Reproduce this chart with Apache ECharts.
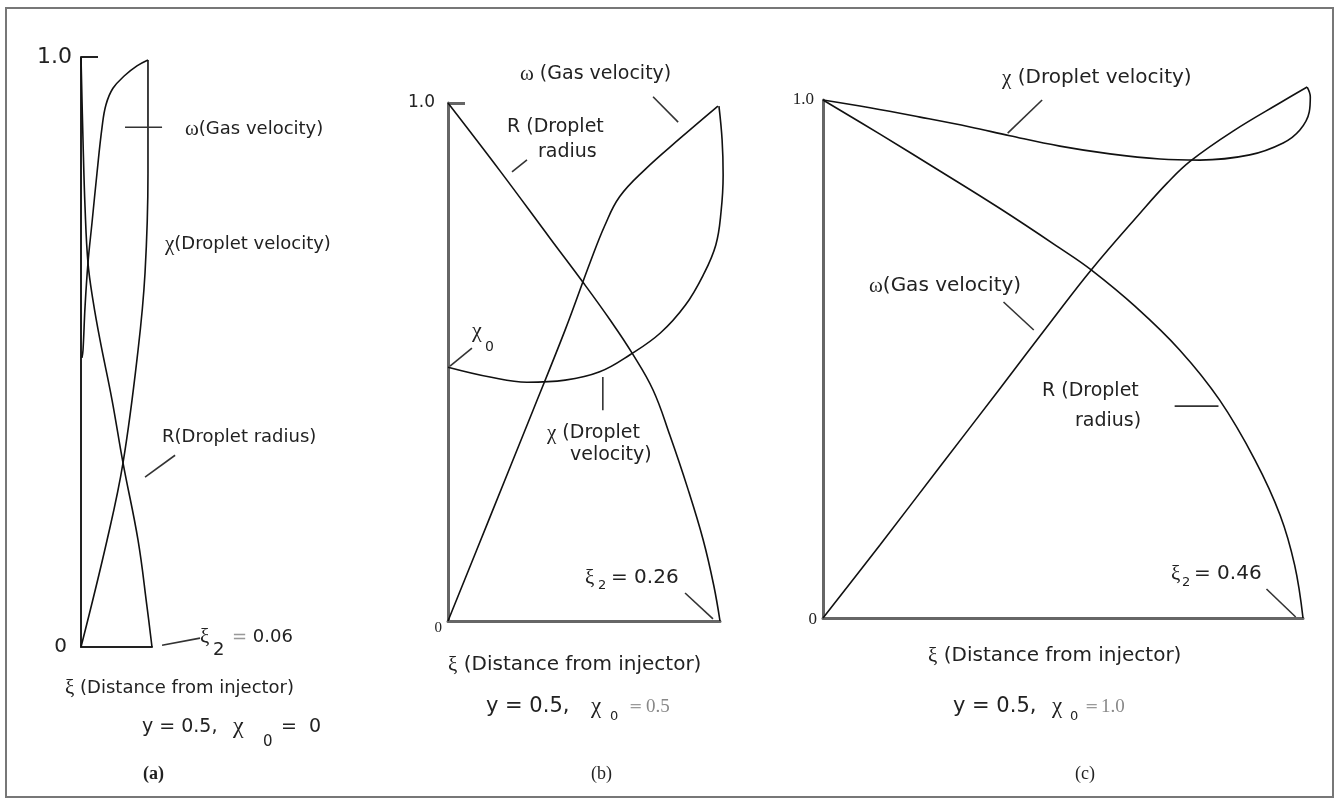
<!DOCTYPE html>
<html><head><meta charset="utf-8">
<script src="https://cdn.jsdelivr.net/npm/echarts@6/dist/echarts.min.js"></script>
<style>html,body{margin:0;padding:0;background:#fff}#c{width:1338px;height:803px}</style>
</head><body><div id="c"></div>
<script>
// ---------- data: [xi, value] ----------
// Panel (a): y = 0.5, chi0 = 0, xi2 = 0.06
const a_xiMax = 0.06;
const a_R = [[0,1.0],[0.0017,0.859],[0.0034,0.746],[0.0059,0.651],[0.0101,0.588],[0.0161,0.520],[0.0262,0.419],[0.0355,0.312],[0.0482,0.181],[0.0558,0.068],[0.060,0]];
const a_omega = [[0,0],[0.022,0.181],[0.0355,0.312],[0.0482,0.503],[0.0541,0.634],[0.0566,0.803],[0.0566,0.910],[0.0566,0.995]];
const a_chi = [[0.0008,0.49],[0.0017,0.503],[0.0034,0.576],[0.0059,0.651],[0.0093,0.719],[0.0135,0.803],[0.0178,0.881],[0.0211,0.919],[0.027,0.947],[0.0372,0.969],[0.0473,0.985],[0.0566,0.995]];
// Panel (b): y = 0.5, chi0 = 0.5, xi2 = 0.26
const b_xiMax = 0.26;
const b_R = [[0,1.0],[0.0497,0.869],[0.0975,0.739],[0.129,0.654],[0.155,0.581],[0.176,0.517],[0.196,0.446],[0.212,0.359],[0.229,0.257],[0.244,0.156],[0.254,0.069],[0.26,0]];
const b_omega = [[0,0],[0.0402,0.201],[0.0813,0.407],[0.112,0.562],[0.136,0.693],[0.150,0.764],[0.164,0.819],[0.188,0.871],[0.222,0.932],[0.258,0.994]];
const b_chi = [[0,0.49],[0.0402,0.471],[0.0755,0.461],[0.112,0.465],[0.145,0.481],[0.174,0.514],[0.203,0.556],[0.227,0.610],[0.244,0.668],[0.256,0.726],[0.261,0.790],[0.263,0.861],[0.262,0.929],[0.259,0.994]];
// Panel (c): y = 0.5, chi0 = 1.0, xi2 = 0.46
const c_xiMax = 0.46;
const c_R = [[0,1.0],[0.0546,0.934],[0.112,0.863],[0.170,0.790],[0.227,0.714],[0.257,0.672],[0.300,0.600],[0.342,0.517],[0.380,0.421],[0.414,0.305],[0.438,0.199],[0.452,0.102],[0.46,0]];
const c_omega = [[0,0],[0.0546,0.141],[0.112,0.292],[0.170,0.444],[0.218,0.571],[0.257,0.672],[0.304,0.782],[0.330,0.840],[0.352,0.882],[0.393,0.940],[0.441,0.998],[0.464,1.025]];
const c_chi = [[0,1.0],[0.045,0.985],[0.093,0.967],[0.141,0.948],[0.179,0.931],[0.227,0.911],[0.275,0.896],[0.323,0.886],[0.361,0.884],[0.409,0.894],[0.441,0.917],[0.457,0.942],[0.466,0.977],[0.467,1.006],[0.464,1.025]];
// leader lines (data units)
const a_leaders = [[[0.0372,0.881],[0.0685,0.881]],[[0.0541,0.288],[0.0795,0.325]],[[0.0685,0.003],[0.1006,0.015]]];
const b_leaders = [[[0.196,1.012],[0.220,0.963]],[[0.0612,0.867],[0.0755,0.890]],[[0.0019,0.492],[0.0229,0.527]],[[0.148,0.471],[0.148,0.407]],[[0.2266,0.054],[0.2533,0.004]]];
const c_leaders = [[[0.177,0.936],[0.210,1.0]],[[0.173,0.610],[0.202,0.556]],[[0.337,0.409],[0.379,0.409]],[[0.425,0.056],[0.453,0.002]]];
const yTickLabels = ['0','1.0'];

// ---------- chart ----------
const SANS = 'DejaVu Sans', SERIF = 'Liberation Serif', INK = '#222';
const chart = echarts.init(document.getElementById('c'), null, {renderer:'canvas'});

// panel frames (pixel layout) and wider overlay extents with identical scale
const panels = [
  {left:81,  top:57,  width:71,  height:590, xmax:a_xiMax, over:0.12},
  {left:448, top:103, width:272, height:518, xmax:b_xiMax, over:0.32},
  {left:823, top:100, width:480, height:518, xmax:c_xiMax, over:0.49}
];
const grids = panels.map(p => ({left:p.left, top:p.top, width:p.width, height:p.height}))
  .concat(panels.map(p => ({left:p.left, top:p.top, width:p.width * p.over / p.xmax, height:p.height})));

function xAx(gi, max, color, width, show){
  return {type:'value', gridIndex:gi, min:0, max:max, show:show,
    axisLine:{show:true, onZero:false, lineStyle:{color:color, width:width}},
    axisTick:{show:false}, axisLabel:{show:false}, splitLine:{show:false}};
}
function yAx(gi, color, width, tick, rich, margin){
  return {type:'value', gridIndex:gi, min:0, max:1,
    axisLine:{show:true, onZero:false, lineStyle:{color:color, width:width}},
    axisTick:{show:tick, inside:true, length:17, customValues:[1], lineStyle:{color:color, width:width}},
    axisLabel:{show:true, customValues:[0,1], margin:margin,
      formatter: v => v === 1 ? '{t|' + yTickLabels[1] + '}' : '{z|' + yTickLabels[0] + '}',
      rich: rich},
    splitLine:{show:false}};
}
function yHidden(gi){ return {type:'value', gridIndex:gi, min:0, max:1, show:false, splitLine:{show:false}}; }
function curve(ai, data){
  return {type:'line', xAxisIndex:ai, yAxisIndex:ai, data:data, smooth:0.4, symbol:'none',
    clip:false, silent:true, lineStyle:{color:'#111', width:1.6}};
}
function leaders(ai, list){
  return list.map(seg => ({type:'line', xAxisIndex:ai, yAxisIndex:ai, data:seg, symbol:'none',
    clip:false, silent:true, lineStyle:{color:'#333', width:1.6}}));
}
function T(x, y, text, size, family, extra){
  return Object.assign({type:'text', x:x, y:y, silent:true, style:Object.assign({text:text, fill:INK,
    fontSize:size, fontFamily:family, align:'left', verticalAlign:'middle',
    textAlign:'left', textVerticalAlign:'middle'}, extra && extra.style || {})}, extra && extra.el || {});
}
const gr = {g:{fontFamily:SERIF, fontSize:21, fill:INK}};
const grEq = {e:{fontFamily:SANS, fontSize:18, fill:'#999'}};
const GRAY = {style:{fill:'#999'}};
const GRAYV = {style:{fill:'#888'}};

const graphic = [
  {type:'rect', shape:{x:6, y:8, width:1327, height:789}, style:{fill:'none', stroke:'#777', lineWidth:2}, silent:true},
  // panel (a)
  T(185,129,'{g|ω}(Gas velocity)',18,SANS,{style:{rich:gr}}),
  T(165,244,'{g|χ}(Droplet velocity)',18,SANS,{style:{rich:gr}}),
  T(162,437,'R(Droplet radius)',18,SANS),
  T(200,637,'ξ',21,SERIF),
  T(213,650,'2',18,SANS),
  T(232,637,'{e|=} 0.06',18,SANS,{style:{rich:grEq}}),
  T(65,688,'{g|ξ} (Distance from injector)',18,SANS,{style:{rich:gr}}),
  T(142,727,'y = 0.5, ',19,SANS),
  T(233,727,'χ',24,SERIF),
  T(263,742,'0',15,SANS),
  T(281,727,'=  0',19,SANS),
  T(143,774,'(a)',18,SERIF,{style:{fontWeight:'bold'}}),
  // panel (b)
  T(520,74,'{g|ω} (Gas velocity)',19,SANS,{style:{rich:gr}}),
  T(507,127,'R (Droplet',19,SANS),
  T(538,152,'radius',19,SANS),
  T(472,331,'χ',22,SERIF),
  T(485,347,'0',14,SANS),
  T(547,433,'{g|χ} (Droplet',19,SANS,{style:{rich:gr}}),
  T(570,455,'velocity)',19,SANS),
  T(585,578,'ξ',21,SERIF),
  T(598,586,'2',13,SANS),
  T(611,578,'= 0.26',20,SANS),
  T(448,665,'{g|ξ} (Distance from injector)',20,SANS,{style:{rich:gr}}),
  T(486,707,'y = 0.5,',21,SANS),
  T(591,707,'χ',23,SERIF),
  T(610,717,'0',13,SANS),
  T(629,707,'=',16,SANS,GRAY),
  T(646,707,'0.5',19,SERIF,GRAYV),
  T(591,774,'(b)',18,SERIF),
  // panel (c)
  T(1002,78,'{g|χ} (Droplet velocity)',20,SANS,{style:{rich:gr}}),
  T(869,286,'{g|ω}(Gas velocity)',20,SANS,{style:{rich:gr}}),
  T(1042,391,'R (Droplet',19,SANS),
  T(1075,421,'radius)',19,SANS),
  T(1171,574,'ξ',21,SERIF),
  T(1182,583,'2',13,SANS),
  T(1194,574,'= 0.46',20,SANS),
  T(928,656,'{g|ξ} (Distance from injector)',20,SANS,{style:{rich:gr}}),
  T(953,707,'y = 0.5,',21,SANS),
  T(1052,707,'χ',23,SERIF),
  T(1070,717,'0',13,SANS),
  T(1085,707,'=',16,SANS,GRAY),
  T(1101,707,'1.0',19,SERIF,GRAYV),
  T(1075,774,'(c)',18,SERIF)
];

const option = {
  backgroundColor:'#fff',
  animation:false,
  grid: grids,
  xAxis:[ xAx(0,a_xiMax,'#222',2,true), xAx(1,b_xiMax,'#666',3,true), xAx(2,c_xiMax,'#666',3,true),
          xAx(3,panels[0].over,'#000',1,false), xAx(4,panels[1].over,'#000',1,false), xAx(5,panels[2].over,'#000',1,false) ],
  yAxis:[
    yAx(0,'#222',2,true,{t:{fontFamily:SANS,fontSize:22,color:INK}, z:{fontFamily:SANS,fontSize:20,color:INK,padding:[0,5,0,0]}},9),
    yAx(1,'#666',3,true,{t:{fontFamily:SANS,fontSize:17,color:INK,padding:[0,7,0,0]}, z:{fontFamily:SERIF,fontSize:15,color:INK,padding:[14,0,0,0]}},6),
    yAx(2,'#666',3,false,{t:{fontFamily:SERIF,fontSize:17,color:INK,padding:[0,3,0,0]}, z:{fontFamily:SERIF,fontSize:17,color:INK,padding:[4,0,0,0]}},6),
    yHidden(3), yHidden(4), yHidden(5)
  ],
  series:[
    curve(3,a_R), curve(3,a_omega), curve(3,a_chi),
    curve(4,b_R), curve(4,b_omega), curve(4,b_chi),
    curve(5,c_R), curve(5,c_omega), curve(5,c_chi)
  ].concat(leaders(3,a_leaders), leaders(4,b_leaders), leaders(5,c_leaders)),
  graphic: graphic
};
chart.setOption(option);
</script></body></html>
